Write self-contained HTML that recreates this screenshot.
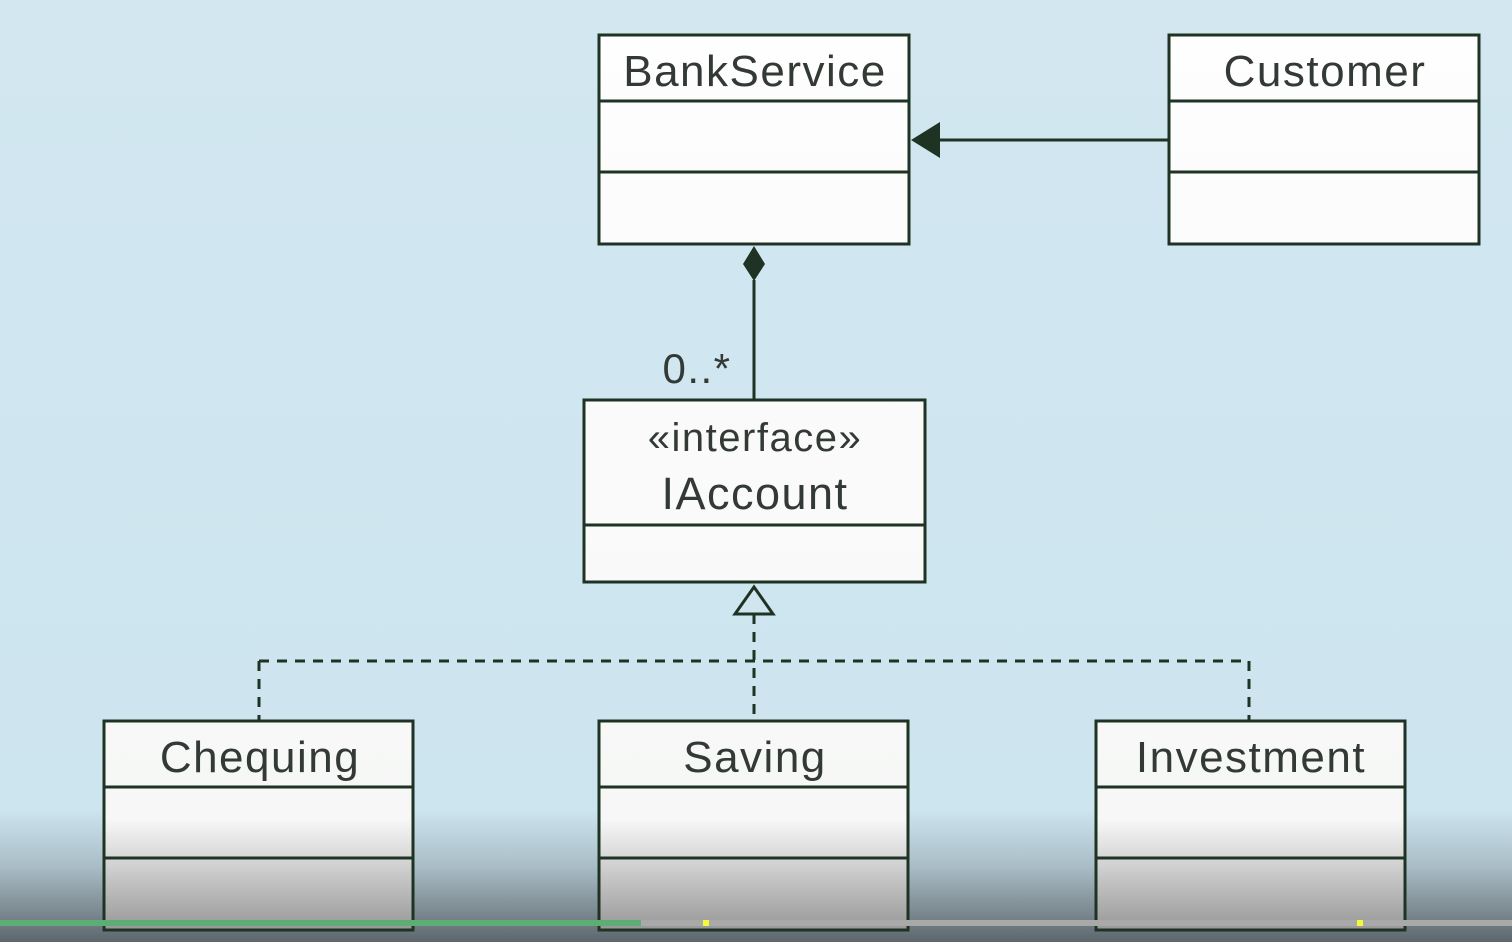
<!DOCTYPE html>
<html><head><style>
html,body{margin:0;padding:0;width:1512px;height:942px;overflow:hidden}
svg{display:block}
text{font-family:"Liberation Sans",sans-serif;fill:#333a35;letter-spacing:1.5px}
</style></head><body>
<svg width="1512" height="942" viewBox="0 0 1512 942" xmlns="http://www.w3.org/2000/svg">
<defs>
<linearGradient id="bg" x1="0" y1="0" x2="0" y2="1">
<stop offset="0" stop-color="#d2e7f0"/>
<stop offset="0.86" stop-color="#cde5ef"/>
<stop offset="0.92" stop-color="#a9bdc6"/>
<stop offset="1" stop-color="#5d666d"/>
</linearGradient>
<linearGradient id="bx" x1="0" y1="0" x2="0" y2="942" gradientUnits="userSpaceOnUse">
<stop offset="0" stop-color="#fefefe"/>
<stop offset="0.87" stop-color="#f6f7f6"/>
<stop offset="0.91" stop-color="#d8d8d8"/>
<stop offset="1" stop-color="#8d8d8d"/>
</linearGradient>
</defs>
<rect width="1512" height="942" fill="url(#bg)"/>
<g stroke="#1f3324" stroke-width="3" fill="url(#bx)">
<rect x="599" y="35" width="310" height="209"/>
<line x1="599" y1="101" x2="909" y2="101"/><line x1="599" y1="172" x2="909" y2="172"/>
<rect x="1169" y="35" width="310" height="209"/>
<line x1="1169" y1="101" x2="1479" y2="101"/><line x1="1169" y1="172" x2="1479" y2="172"/>
<rect x="584" y="400" width="341" height="182"/>
<line x1="584" y1="525" x2="925" y2="525"/>
<rect x="104" y="721" width="309" height="209"/>
<line x1="104" y1="787" x2="413" y2="787"/><line x1="104" y1="858" x2="413" y2="858"/>
<rect x="599" y="721" width="309" height="209"/>
<line x1="599" y1="787" x2="908" y2="787"/><line x1="599" y1="858" x2="908" y2="858"/>
<rect x="1096" y="721" width="309" height="209"/>
<line x1="1096" y1="787" x2="1405" y2="787"/><line x1="1096" y1="858" x2="1405" y2="858"/>
</g>
<g stroke="#1f3324" stroke-width="3" fill="none">
<line x1="1169" y1="140" x2="938" y2="140"/>
<line x1="754" y1="280" x2="754" y2="400"/>
<g stroke-dasharray="10,8">
<line x1="754" y1="614" x2="754" y2="721"/>
<line x1="259" y1="661" x2="1249" y2="661"/>
<line x1="259" y1="661" x2="259" y2="721"/>
<line x1="1249" y1="661" x2="1249" y2="721"/>
</g>
<polygon points="754,587 735,614 773,614" fill="#d0e6ef"/>
</g>
<polygon points="911,140 940,122 940,158" fill="#1f3324"/>
<polygon points="754,246 765,264 754,281 743,264" fill="#1f3324"/>
<g font-size="44" text-anchor="middle">
<text x="755" y="86">BankService</text>
<text x="1325" y="86">Customer</text>
<text x="755" y="451" font-size="40">«interface»</text>
<text x="755" y="509" font-size="45">IAccount</text>
<text x="260" y="772">Chequing</text>
<text x="755" y="772">Saving</text>
<text x="1251" y="772">Investment</text>
<text x="697" y="383" font-size="42">0..*</text>
</g>
<rect x="0" y="920" width="1512" height="6" fill="#a9a9a9"/>
<rect x="0" y="920" width="641" height="6" fill="#5cae74"/>
<rect x="703" y="920" width="6" height="6" fill="#f6f83c"/>
<rect x="1357" y="920" width="6" height="6" fill="#f6f83c"/>
</svg>
</body></html>
